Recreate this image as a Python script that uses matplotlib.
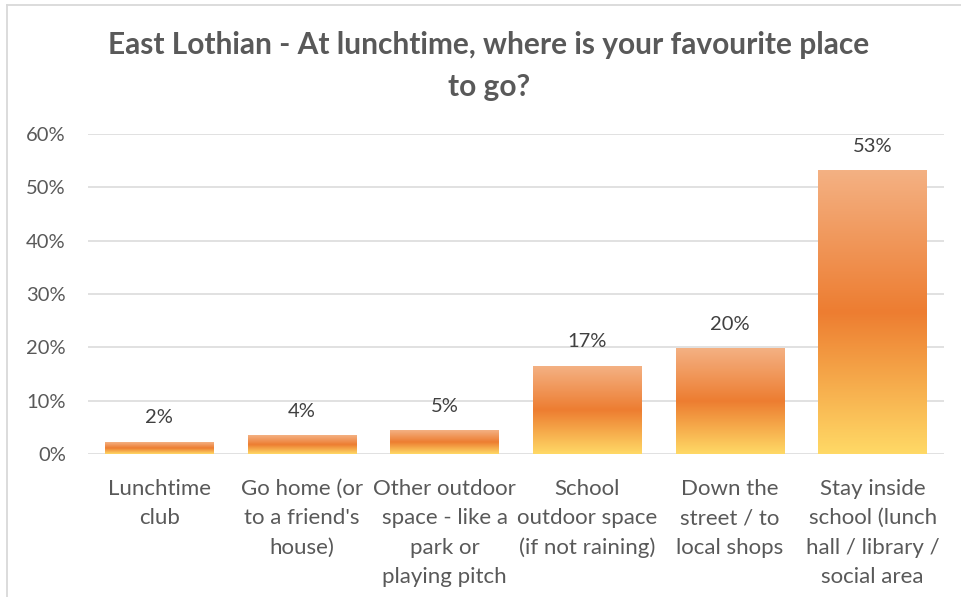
import matplotlib
matplotlib.use("Agg")
import matplotlib.pyplot as plt
import numpy as np
from matplotlib.colors import LinearSegmentedColormap
from matplotlib.ticker import PercentFormatter

# Chart data
categories = [
    "Lunchtime\nclub",
    "Go home (or\nto a friend's\nhouse)",
    "Other outdoor\nspace - like a\npark or\nplaying pitch",
    "School\noutdoor space\n(if not raining)",
    "Down the\nstreet / to\nlocal shops",
    "Stay inside\nschool (lunch\nhall / library /\nsocial area",
]
values = [0.022, 0.035, 0.044, 0.165, 0.197, 0.531]
labels = ["2%", "4%", "5%", "17%", "20%", "53%"]
title = "East Lothian - At lunchtime, where is your favourite place\nto go?"

plt.rcParams['font.family'] = ['Lato', 'DejaVu Sans']

fig = plt.figure(figsize=(9.62, 5.97), dpi=100)
W, H = 962, 597
ax = fig.add_axes([88 / W, 1 - 454 / H, (944 - 88) / W, (454 - 134) / H])

# gradient: bottom yellow -> orange middle -> light orange top
grad = LinearSegmentedColormap.from_list(
    "bar", [(0.0, "#FFD966"), (0.5, "#ED7D31"), (1.0, "#F4B183")])
g = np.linspace(0, 1, 256).reshape(-1, 1)

x = np.arange(len(categories))
bars = ax.bar(x, values, width=0.76, facecolor="none", edgecolor="none", zorder=3)
for b in bars:
    x0, w, h = b.get_x(), b.get_width(), b.get_height()
    ax.imshow(g, cmap=grad, origin="lower", aspect="auto",
              extent=(x0, x0 + w, 0, h), zorder=3, interpolation="bilinear")

for b, lab in zip(bars, labels):
    ax.annotate(lab, (b.get_x() + b.get_width() / 2, b.get_height()),
                xytext=(0, 17.5), textcoords="offset points",
                ha="center", va="center", fontsize=14.5, color="#404040")

ax.set_xlim(-0.5, len(categories) - 0.5)
ax.set_ylim(0, 0.6)
ax.set_yticks(np.arange(0, 0.61, 0.1))
ax.yaxis.set_major_formatter(PercentFormatter(1.0, decimals=0))
ax.set_xticks(x)
ax.set_xticklabels(categories, linespacing=1.58)
ax.tick_params(axis="y", length=0, pad=16, labelsize=14.5, labelcolor="#595959")
ax.tick_params(axis="x", length=0, pad=18, labelsize=16, labelcolor="#595959")
ax.grid(axis="y", color="#D9D9D9", linewidth=1.1, zorder=0)
ax.set_axisbelow(True)
for s in ax.spines.values():
    s.set_visible(False)

fig.text(489 / W, 1 - 66 / H, title, ha="center", va="center",
         fontsize=21.5, fontweight="bold", color="#595959", linespacing=1.6)

# chart area frame (left and top edges visible)
fig.add_artist(plt.Line2D([7.5 / W, 7.5 / W], [0, 1 - 4.5 / H],
                          color="#D9D9D9", linewidth=1.3))
fig.add_artist(plt.Line2D([7.5 / W, 1], [1 - 4.5 / H, 1 - 4.5 / H],
                          color="#D9D9D9", linewidth=1.3))

fig.savefig("out.png", dpi=100)
plt.close(fig)
